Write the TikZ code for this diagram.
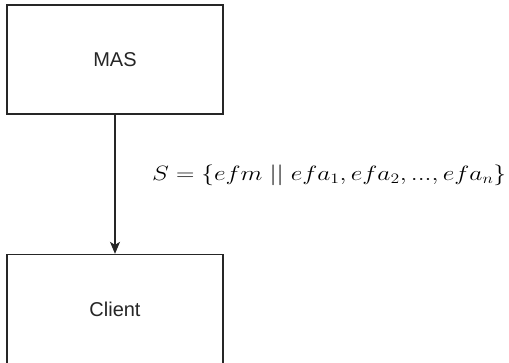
\documentclass[tikz,border=0pt]{standalone}
\usepackage{fontspec}
\setmainfont{Liberation Sans}
\usetikzlibrary{arrows.meta}
\begin{document}
\begin{tikzpicture}[x=1pt,y=-1pt,
  boxstyle/.style={draw=black!85, line width=1.3pt, fill=white, minimum width=216pt, minimum height=109pt, inner sep=0pt, font=\fontsize{20}{24}\selectfont, text=black!85},
  conn/.style={draw=black!85, line width=1.3pt, -{Stealth[length=12pt,width=10pt,inset=3pt]}}]
\useasboundingbox (0,0) rectangle (509,362);
\node[boxstyle] (mas) at (115,59.5) {MAS};
\node[boxstyle] (client) at (115,309) {Client};
\draw[conn] (mas.south) -- (client.north);
\node[anchor=base west, inner sep=0pt, font=\fontsize{22}{26}\selectfont] (lbl) at (152,180) {\resizebox{354pt}{\height}{$S=\{efm\;||\;efa_1,efa_2,...,efa_n\}$}};
\end{tikzpicture}
\end{document}
